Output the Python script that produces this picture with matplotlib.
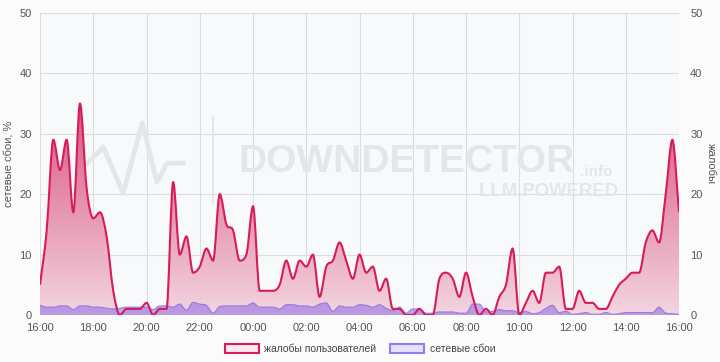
import numpy as np
import matplotlib
matplotlib.use("Agg")
import matplotlib.pyplot as plt
from matplotlib.path import Path
from matplotlib.patches import PathPatch, Rectangle
from matplotlib.colors import LinearSegmentedColormap

plt.rcParams['font.family'] = ['Liberation Sans', 'DejaVu Sans']

# 15-minute samples from 16:00 to 16:00 next day
complaints = [5, 14, 29, 24, 29, 17, 35, 21, 16, 17, 13, 4,
              0, 1, 1, 1, 2, 0, 1, 1, 22, 10, 13, 7,
              8, 11, 9, 20, 15, 14, 9, 10, 18, 4, 4, 4,
              5, 9, 6, 9, 8, 10, 3, 8, 9, 12, 9, 6,
              10, 7, 8, 4, 6, 1, 1, 0, 0, 1, 0, 0,
              6, 7, 6, 3, 7, 3, 0, 1, 0, 3, 5, 11,
              0, 2, 4, 2, 7, 7, 8, 1, 1, 4, 2, 2,
              1, 1, 3, 5, 6, 7, 7, 12, 14, 12, 20, 29, 17]
outages = [1.6, 1.3, 1.3, 1.5, 1.5, 0.9, 1.5, 1.5, 1.3, 1.3, 1.1, 1.0,
           1.1, 1.3, 1.3, 1.3, 1.3, 0.9, 1.5, 1.5, 1.3, 1.8, 0.8, 2.1,
           1.8, 1.6, 0.3, 1.4, 1.5, 1.5, 1.5, 1.5, 2.0, 1.3, 1.3, 1.3,
           1.0, 1.7, 1.7, 1.5, 1.5, 1.3, 1.8, 2.0, 0.6, 1.5, 1.3, 1.3,
           1.7, 1.6, 1.3, 1.7, 1.1, 0.7, 1.3, 0.3, 1.0, 1.0, 0.3, 0.3,
           0.5, 0.5, 0.5, 0.3, 0.3, 1.8, 1.8, 0.5, 0.6, 0.9, 0.7, 0.7,
           0.4, 0.6, 0.2, 0.4, 1.1, 1.6, 0.4, 0.6, 0.1, 0.2, 0.4, 0.1,
           0.1, 0.4, 0.1, 0.2, 0.4, 0.4, 0.4, 0.4, 0.4, 1.3, 0.3, 0.2, 0.1]
tick_labels = ["16:00", "18:00", "20:00", "22:00", "00:00", "02:00", "04:00",
               "06:00", "08:00", "10:00", "12:00", "14:00", "16:00"]

hours = np.arange(len(complaints)) * 0.25


def monotone_path(x, y, close=False):
    # smooth monotone-x cubic through the points (like d3.curveMonotoneX)
    x = np.asarray(x, float)
    y = np.asarray(y, float)
    h = np.diff(x)
    d = np.diff(y) / h
    m = np.zeros_like(y)
    m[0], m[-1] = d[0], d[-1]
    for i in range(1, len(y) - 1):
        if d[i - 1] * d[i] <= 0:
            m[i] = 0
        else:
            m[i] = (h[i - 1] * d[i - 1] + h[i] * d[i]) / (h[i - 1] + h[i])
            m[i] = np.sign(m[i]) * min(abs(m[i]), 3 * min(abs(d[i - 1]), abs(d[i])))
    verts = [(x[0], y[0])]
    codes = [Path.MOVETO]
    for i in range(len(x) - 1):
        dx = h[i] / 3
        verts += [(x[i] + dx, y[i] + m[i] * dx),
                  (x[i + 1] - dx, y[i + 1] - m[i + 1] * dx),
                  (x[i + 1], y[i + 1])]
        codes += [Path.CURVE4] * 3
    if close:
        verts += [(x[-1], 0), (x[0], 0), (x[0], y[0])]
        codes += [Path.LINETO, Path.LINETO, Path.CLOSEPOLY]
    return Path(verts, codes)


fig = plt.figure(figsize=(7.2, 3.62), dpi=100, facecolor="#fbfbfc")
ax = fig.add_axes([0.0556, 0.130, 0.8875, 0.834])
ax.set_facecolor("#f8f9fb")
ax.set_xlim(0, 24)
ax.set_ylim(0, 50)

# watermark
wm = "#e4e6e9"
ax.text(0.31, 0.505, "DOWNDETECTOR", transform=ax.transAxes, fontsize=28,
        fontweight="bold", color=wm, ha="left", va="center", zorder=1)
ax.text(0.845, 0.475, ".info", transform=ax.transAxes, fontsize=11,
        fontweight="bold", color=wm, ha="left", va="center", zorder=1)
ax.text(0.905, 0.41, "LLM POWERED", transform=ax.transAxes, fontsize=13.3,
        fontweight="bold", color=wm, ha="right", va="center", zorder=1)
ax.plot([0.074, 0.099, 0.130, 0.160, 0.183, 0.199, 0.224],
        [0.503, 0.556, 0.404, 0.636, 0.440, 0.503, 0.503],
        transform=ax.transAxes, color=wm, lw=3.5, zorder=1)
ax.plot([0.271, 0.271], [0.37, 0.656], transform=ax.transAxes, color=wm, lw=1.5, zorder=1)

# complaints area with vertical gradient
pink_path = monotone_path(hours, complaints, close=True)
patch = PathPatch(pink_path, facecolor="none", edgecolor="none", zorder=2)
ax.add_patch(patch)
cmap = LinearSegmentedColormap.from_list("pk", ["#f3d3df", "#d84c7c"])
grad = np.linspace(0, 1, 256).reshape(-1, 1)
top = max(complaints)
img = ax.imshow(grad, cmap=cmap, origin="lower", aspect="auto",
                extent=[0, 24, 0, top], zorder=2, alpha=0.95)
img.set_clip_path(patch)
ax.add_patch(PathPatch(monotone_path(hours, complaints), facecolor="none",
                       edgecolor="#d81b5a", lw=1.5, zorder=4))

# outages area
ax.add_patch(PathPatch(monotone_path(hours, outages, close=True),
                       facecolor="#8a68e6", alpha=0.55, edgecolor="none", zorder=3))
ax.add_patch(PathPatch(monotone_path(hours, outages), facecolor="none",
                       edgecolor="#8d6ee0", lw=0.8, alpha=0.8, zorder=3))

ax.set_xticks(np.arange(0, 25, 2))
ax.set_xticklabels(tick_labels)
ax.set_yticks(np.arange(0, 51, 10))
ax.grid(True, color="#dcdde0", lw=0.8)
ax.set_axisbelow(True)
for s in ax.spines.values():
    s.set_visible(False)
ax.tick_params(length=0, colors="#555555", labelsize=8, pad=6)
ax.set_ylabel("сетевые сбои, %", color="#555555", fontsize=8, labelpad=4)

ax2 = ax.twinx()
ax2.set_ylim(0, 50)
ax2.set_yticks(np.arange(0, 51, 10))
for s in ax2.spines.values():
    s.set_visible(False)
ax2.tick_params(length=0, colors="#555555", labelsize=8, pad=8)
ax2.set_ylabel("жалобы", color="#555555", fontsize=8, rotation=270, labelpad=10)

handles = [Rectangle((0, 0), 1, 1, facecolor="#fbe9ef", edgecolor="#d81b5a", lw=1.5),
           Rectangle((0, 0), 1, 1, facecolor="#e4e2fc", edgecolor="#8c7ff0", lw=1.5)]
fig.legend(handles, ["жалобы пользователей", "сетевые сбои"], loc="lower center",
           bbox_to_anchor=(0.5, -0.005), ncol=2, frameon=False, fontsize=7.5,
           handlelength=3.3, handleheight=0.95, columnspacing=1.3, handletextpad=0.5,
           labelcolor="#444444")

fig.savefig("out.png", dpi=100, facecolor=fig.get_facecolor())
